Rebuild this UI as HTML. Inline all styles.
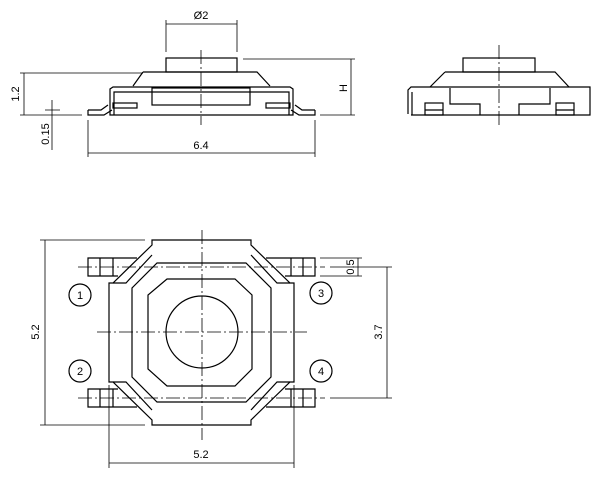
<!DOCTYPE html>
<html><head><style>
html,body{margin:0;padding:0;background:#fff;}
svg{display:block;}
text{font-family:"Liberation Sans",sans-serif;font-size:11px;fill:#000;}
</style></head><body>
<svg width="607" height="477" viewBox="0 0 607 477" xmlns="http://www.w3.org/2000/svg">
<g fill="none" stroke="#000" stroke-width="1.2">
<!-- Side view left -->
<rect x="166" y="58" width="71" height="14"/>
<path d="M143 72 L257 72 L270 86 M143 72 L133 86"/>
<path d="M110 115 L110 89 L113 87 L290 87 L293 89 L293 115 Z"/>
<path d="M114 115 L114 92 L289 92 L289 115"/>
<rect x="152" y="88" width="98" height="17"/>
<path d="M88 110 L101 110 L108 105 M88 110 L88 115 L104 115 L112 110"/>
<path d="M315 110 L302 110 L295 105 M315 110 L315 115 L299 115 L291 110"/>
<rect x="113" y="103" width="24" height="5"/>
<rect x="266" y="103" width="24" height="5"/>
</g>
<g fill="none" stroke="#000" stroke-width="0.8">
<path d="M166 52 L166 20 M237 52 L237 20 M166 24 L237 24"/>
<path d="M243 59 L355 59 M320 115 L355 115 M351 59 L351 115"/>
<path d="M20 73 L143 73 M20 115 L82 115 M24 73 L24 115"/>
<path d="M52 100 L52 150 M45 110 L60 110"/>
<path d="M88 120 L88 157 M315 120 L315 157 M88 153 L315 153"/>
<path d="M201 50 L201 125" stroke-dasharray="14,3,2,3"/>
</g>
<text x="201" y="19" text-anchor="middle">Ø2</text>
<text x="201" y="149" text-anchor="middle">6.4</text>
<text transform="translate(347,88) rotate(-90)" text-anchor="middle">H</text>
<text transform="translate(19,94) rotate(-90)" text-anchor="middle">1.2</text>
<text transform="translate(49,134) rotate(-90)" text-anchor="middle">0.15</text>

<!-- Side view right -->
<g fill="none" stroke="#000" stroke-width="1.2">
<rect x="463" y="58" width="72" height="14"/>
<path d="M445 72 L555 72 L569 87 M445 72 L430 87"/>
<path d="M408 114 L408 90 L411 87 L590 87 L590 115 L411 115"/>
<path d="M412 115 L412 92"/>
<path d="M450 88 L450 104 L480 104 L480 115 M550 88 L550 104 L519 104 L519 115"/>
<rect x="425" y="103" width="18" height="12"/>
<line x1="425" y1="110" x2="443" y2="110"/>
<rect x="556" y="103" width="18" height="12"/>
<line x1="556" y1="110" x2="574" y2="110"/>
</g>
<path d="M499 45 L499 125" stroke="#000" stroke-width="0.8" stroke-dasharray="14,3,2,3"/>

<!-- Bottom view -->
<g fill="none" stroke="#000" stroke-width="1.2">
<!-- leads -->
<path d="M137 258 L88 258 L88 276 L118 276"/>
<path d="M266 258 L315 258 L315 276 L285 276"/>
<path d="M118 389 L88 389 L88 407 L137 407"/>
<path d="M285 389 L315 389 L315 407 L266 407"/>
<path d="M100 258 L100 276 M113 258 L113 276 M291 258 L291 276 M303 258 L303 276"/>
<path d="M100 389 L100 407 M113 389 L113 407 M291 389 L291 407 M303 389 L303 407"/>
<!-- outer octagon -->
<path d="M152 240 L251 240 L251 245 L290 283 L294 283 L294 382 L290 382 L251 420 L251 425 L152 425 L152 420 L113 382 L109 382 L109 283 L113 283 L152 245 Z"/>
<path d="M152 255 L126 283 L113 283 M251 255 L277 283 L290 283 M152 410 L126 382 L113 382 M251 410 L277 382 L290 382"/>
<!-- second octagon -->
<path d="M157 263 L246 263 L271 288 L271 377 L246 402 L157 402 L132 377 L132 288 Z"/>
<!-- inner octagon -->
<path d="M167 279 L235 279 L252 295 L252 369 L235 386 L167 386 L148 369 L148 295 Z"/>
<circle cx="202" cy="332" r="36"/>
<!-- pin circles -->
<circle cx="80" cy="295" r="11"/>
<circle cx="321" cy="293" r="11"/>
<circle cx="80" cy="371" r="11"/>
<circle cx="321" cy="371" r="11"/>
</g>
<g fill="none" stroke="#000" stroke-width="0.8">
<path d="M202 230 L202 440 M97 332 L307 332 M78 267 L325 267 M78 398 L325 398" stroke-dasharray="14,3,2,3"/>
<path d="M40 240 L145 240 M40 425 L145 425 M45 240 L45 425"/>
<path d="M109 385 L109 468 M294 385 L294 468 M109 463 L294 463"/>
<path d="M330 267 L392 267 M330 398 L392 398 M387 267 L387 398"/>
<path d="M320 258 L362 258 M320 276 L362 276 M358 258 L358 276"/>
</g>
<g text-anchor="middle" font-size="12">
<text x="80" y="299">1</text>
<text x="321" y="297">3</text>
<text x="80" y="375">2</text>
<text x="321" y="375">4</text>
</g>
<text transform="translate(39,332) rotate(-90)" text-anchor="middle">5.2</text>
<text x="201" y="458" text-anchor="middle">5.2</text>
<text transform="translate(382,332) rotate(-90)" text-anchor="middle">3.7</text>
<text transform="translate(354,267) rotate(-90)" text-anchor="middle">0.5</text>
</svg>
</body></html>
